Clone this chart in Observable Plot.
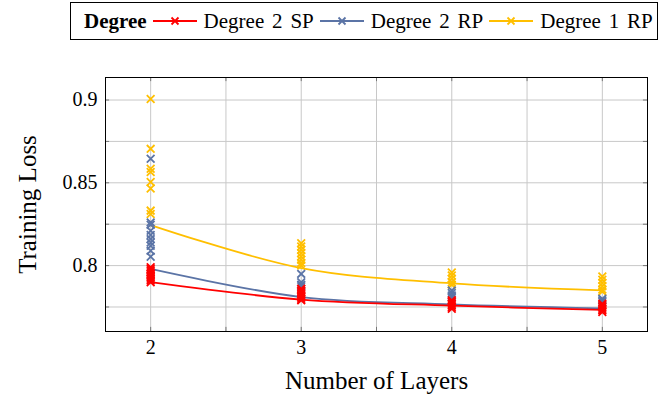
<!DOCTYPE html>
<html><head><meta charset="utf-8">
<script src="https://cdn.jsdelivr.net/npm/d3@7"></script>
<script src="https://cdn.jsdelivr.net/npm/@observablehq/plot@0.6"></script>
<style>
body{margin:0;background:#fff;font-family:"Liberation Serif","Times New Roman",serif;}
#legend{position:relative;height:44px;width:667px;}
#legend .box{position:absolute;left:70px;top:2px;width:588px;height:38px;border:1px solid #000;box-sizing:border-box;display:flex;align-items:center;font-size:21px;padding-left:13px;white-space:nowrap;}
#legend .title{font-weight:bold;margin-right:6px;}
#legend .item{display:flex;align-items:center;margin-right:6px;}
#legend .lab{word-spacing:2.6px;}
#legend svg{margin-right:7px;}
#chart svg{display:block;}
</style>
</head><body>
<div id="legend"><div class="box"></div></div>
<div id="chart"></div>
<script>
// ---- data ----
const layers = [2, 3, 4, 5];
const seriesNames = ["Degree 2 SP", "Degree 2 RP", "Degree 1 RP"];
const seriesColors = ["#ff0000", "#5b74a6", "#ffbf00"];

// smoothed mean lines
const sp2Line = [0.7900, 0.7795, 0.7758, 0.7732];
const rp2Line = [0.7980, 0.7810, 0.7766, 0.7742];
const rp1Line = [0.8245, 0.7985, 0.7893, 0.7850];

// individual runs per layer count (same order as layers)
const sp2Runs = [
  [0.799, 0.798, 0.797, 0.796, 0.795, 0.794, 0.793, 0.792, 0.791, 0.790],
  [0.786, 0.785, 0.784, 0.783, 0.782, 0.781, 0.780, 0.779],
  [0.779, 0.778, 0.777, 0.776, 0.775, 0.774],
  [0.777, 0.776, 0.775, 0.774, 0.773, 0.772]
];
const rp2Runs = [
  [0.8645, 0.8261, 0.8247, 0.8211, 0.8185, 0.8160, 0.8140, 0.8120, 0.8090, 0.8054],
  [0.7950, 0.7900, 0.7885, 0.7875],
  [0.7850, 0.7835, 0.7820, 0.7808],
  [0.7800, 0.7790, 0.7780]
];
const rp1Runs = [
  [0.9006, 0.8705, 0.8585, 0.8565, 0.8505, 0.8466, 0.8332, 0.8312],
  [0.8135, 0.8115, 0.8095, 0.8075, 0.8055, 0.8035, 0.8015, 0.8000],
  [0.7958, 0.7940, 0.7920, 0.7900, 0.7885],
  [0.7934, 0.7915, 0.7895, 0.7875, 0.7855, 0.7843]
];

const xTicks = [2, 3, 4, 5];
const xGrid = [2, 2.5, 3, 3.5, 4, 4.5, 5];
const yTicks = [0.8, 0.85, 0.9];
const yGrid = [0.775, 0.8, 0.825, 0.85, 0.875, 0.9];
const xDomain = [1.7, 5.3];
const yDomain = [0.7602, 0.9136];

// ---- build tables ----
const lines = [sp2Line, rp2Line, rp1Line];
const runs = [sp2Runs, rp2Runs, rp1Runs];
const lineData = [], pointData = [];
seriesNames.forEach((s, si) => {
  layers.forEach((L, i) => {
    lineData.push({series: s, x: L, y: lines[si][i]});
    runs[si][i].forEach(v => pointData.push({series: s, x: L, y: v}));
  });
});
const drawOrder = [2, 1, 0];

// ---- legend ----
const box = document.querySelector("#legend .box");
const t = document.createElement("span"); t.className = "title"; t.textContent = "Degree"; box.appendChild(t);
seriesNames.forEach((s, i) => {
  const it = document.createElement("span"); it.className = "item";
  const c = seriesColors[i];
  it.innerHTML = `<svg width="44" height="12"><line x1="0" x2="44" y1="6" y2="6" stroke="${c}" stroke-width="1.8"/><path d="M18.5,2.5L25.5,9.5M25.5,2.5L18.5,9.5" stroke="${c}" stroke-width="1.8"/></svg><span class="lab">${s}</span>`;
  box.appendChild(it);
});

// ---- chart ----
const colorScale = {domain: seriesNames, range: seriesColors};
const marks = [
  Plot.gridX(xGrid, {stroke: "#c8c8c8", strokeOpacity: 1, strokeWidth: 1}),
  Plot.gridY(yGrid, {stroke: "#c8c8c8", strokeOpacity: 1, strokeWidth: 1}),
  Plot.ruleY(yGrid, {y: d => d, x1: xDomain[0], x2: xDomain[0] + 0.027, stroke: "#777"}),
  Plot.ruleY(yGrid, {y: d => d, x1: xDomain[1], x2: xDomain[1] - 0.027, stroke: "#777"}),
  Plot.ruleX(xGrid, {x: d => d, y1: yDomain[0], y2: yDomain[0] + 0.0025, stroke: "#777"}),
  Plot.ruleX(xGrid, {x: d => d, y1: yDomain[1], y2: yDomain[1] - 0.0025, stroke: "#777"}),
  Plot.axisX(xTicks, {tickSize: 0, tickPadding: 8, fontSize: 20, label: null, tickFormat: d => String(d)}),
  Plot.axisY(yTicks, {tickSize: 0, tickPadding: 8, fontSize: 20, label: null, tickFormat: d => String(d)}),
  Plot.text(["Number of Layers"], {frameAnchor: "bottom", dy: 57, fontSize: 25, textAnchor: "middle", text: d => d}),
  Plot.text(["Training Loss"], {frameAnchor: "left", dx: -78, rotate: -90, fontSize: 25, textAnchor: "middle", lineAnchor: "middle", text: d => d})
];
drawOrder.forEach(si => {
  const s = seriesNames[si];
  marks.push(Plot.line(lineData.filter(d => d.series === s), {x: "x", y: "y", stroke: "series", strokeWidth: 1.8, curve: "catmull-rom"}));
  marks.push(Plot.dot(pointData.filter(d => d.series === s), {x: "x", y: "y", stroke: "series", symbol: "times", r: 3.6, strokeWidth: 1.8}));
});
marks.push(Plot.frame({stroke: "#000", strokeWidth: 1}));

const chart = Plot.plot({
  width: 667, height: 357,
  marginTop: 33, marginBottom: 70, marginLeft: 105, marginRight: 20,
  x: {domain: xDomain},
  y: {domain: yDomain},
  color: colorScale,
  style: {fontSize: "20px", color: "#000", background: "#fff"},
  marks
});
d3.select(chart).selectAll("text, g").style("font-family", '"Liberation Serif", serif').style("font-variant", "normal");
document.getElementById("chart").appendChild(chart);
</script>
</body></html>
